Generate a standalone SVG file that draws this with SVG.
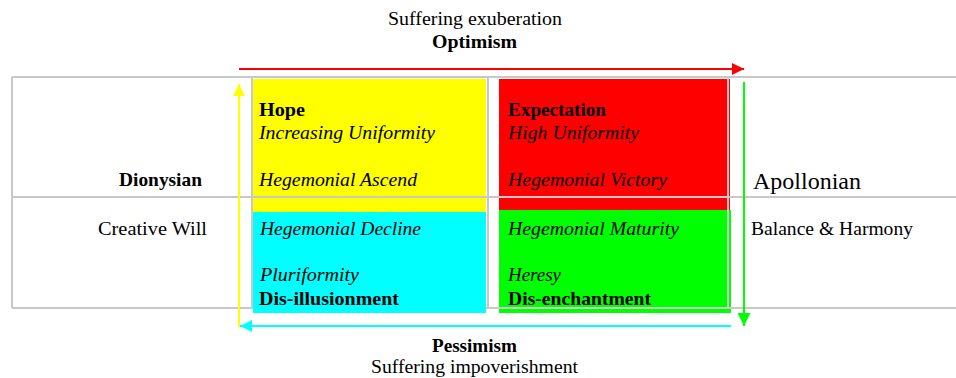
<svg xmlns="http://www.w3.org/2000/svg" width="956" height="378" viewBox="0 0 956 378">
<style>
text{font-family:"Liberation Serif","DejaVu Serif","Times New Roman",serif;font-size:19px;fill:#000}
.b{font-weight:bold}
.i{font-style:italic}
.grid{stroke:#c8c8c8;stroke-width:2;fill:none}
.arr{stroke-width:2;fill:none}
</style>
<defs>
<marker id="mR" viewBox="0 0 12 12" markerWidth="12" markerHeight="12" refX="12" refY="6" orient="auto" markerUnits="userSpaceOnUse"><path d="M0,0 L12,6 L0,12 z" fill="#ff0000"/></marker>
<marker id="mY" viewBox="0 0 12 12" markerWidth="12" markerHeight="12" refX="12" refY="6" orient="auto" markerUnits="userSpaceOnUse"><path d="M0,0 L12,6 L0,12 z" fill="#ffff00"/></marker>
<marker id="mG" viewBox="0 0 12 12" markerWidth="13" markerHeight="13" refX="12" refY="6" orient="auto" markerUnits="userSpaceOnUse"><path d="M0,0 L12,6 L0,12 z" fill="#00ff00"/></marker>
<marker id="mC" viewBox="0 0 12 12" markerWidth="12" markerHeight="12" refX="12" refY="6" orient="auto" markerUnits="userSpaceOnUse"><path d="M0,0 L12,6 L0,12 z" fill="#00ffff"/></marker>
</defs>
<rect width="956" height="378" fill="#fff"/>
<g id="hope">
<rect x="253" y="79" width="233" height="133" fill="#ffff00"/>
<text class="b" x="259" y="116" textLength="46" lengthAdjust="spacingAndGlyphs">Hope</text>
<text class="i" x="259" y="139" textLength="176" lengthAdjust="spacingAndGlyphs">Increasing Uniformity</text>
<text class="i" x="259" y="186" textLength="158" lengthAdjust="spacingAndGlyphs">Hegemonial Ascend</text>
</g>
<g id="expectation">
<rect x="499" y="79" width="231" height="131" fill="#ff0000"/>
<text class="b" x="508" y="116" textLength="98" lengthAdjust="spacingAndGlyphs">Expectation</text>
<text class="i" x="508" y="139" textLength="131" lengthAdjust="spacingAndGlyphs">High Uniformity</text>
<text class="i" x="508" y="186" textLength="159" lengthAdjust="spacingAndGlyphs">Hegemonial Victory</text>
</g>
<g id="disillusionment">
<rect x="253" y="212" width="233" height="101" fill="#00ffff"/>
<text class="i" x="260" y="235" textLength="161" lengthAdjust="spacingAndGlyphs">Hegemonial Decline</text>
<text class="i" x="260" y="281" textLength="99" lengthAdjust="spacingAndGlyphs">Pluriformity</text>
<text class="b" x="259" y="305" textLength="140" lengthAdjust="spacingAndGlyphs">Dis-illusionment</text>
</g>
<g id="disenchantment">
<rect x="499" y="210" width="232" height="103" fill="#00ff00"/>
<text class="i" x="508" y="235" textLength="171" lengthAdjust="spacingAndGlyphs">Hegemonial Maturity</text>
<text class="i" x="508" y="281" textLength="53" lengthAdjust="spacingAndGlyphs">Heresy</text>
<text class="b" x="508" y="305" textLength="143" lengthAdjust="spacingAndGlyphs">Dis-enchantment</text>
</g>
<g id="grid" class="grid">
<path d="M12,77 H956 M12,197 H956 M12,308 H253 M486,308 H956 M12,77 V308 M252,77 V308 M488,77 V308 M728,77 V308"/>
</g>
<g id="dionysian">
<text class="b" x="119" y="186" textLength="83" lengthAdjust="spacingAndGlyphs">Dionysian</text>
<text x="98" y="235" textLength="109" lengthAdjust="spacingAndGlyphs">Creative Will</text>
</g>
<g id="apollonian">
<text x="753" y="189" style="font-size:24px" textLength="108" lengthAdjust="spacingAndGlyphs">Apollonian</text>
<text x="751" y="235" textLength="162" lengthAdjust="spacingAndGlyphs">Balance &amp; Harmony</text>
</g>
<g id="optimism">
<text x="388" y="25" textLength="174" lengthAdjust="spacingAndGlyphs">Suffering exuberation</text>
<text class="b" x="432" y="48" textLength="85" lengthAdjust="spacingAndGlyphs">Optimism</text>
</g>
<g id="pessimism">
<text class="b" x="432" y="352" textLength="85" lengthAdjust="spacingAndGlyphs">Pessimism</text>
<text x="371" y="373" textLength="207" lengthAdjust="spacingAndGlyphs">Suffering impoverishment</text>
</g>
<g id="connectors" class="arr">
<line x1="239" y1="69" x2="744" y2="69" stroke="#ff0000" marker-end="url(#mR)"/>
<line x1="744" y1="82" x2="744" y2="326" stroke="#00ff00" marker-end="url(#mG)"/>
<line x1="731" y1="326" x2="240" y2="326" stroke="#00ffff" marker-end="url(#mC)"/>
<line x1="239" y1="327" x2="239" y2="84" stroke="#ffff00" marker-end="url(#mY)"/>
</g>
</svg>
